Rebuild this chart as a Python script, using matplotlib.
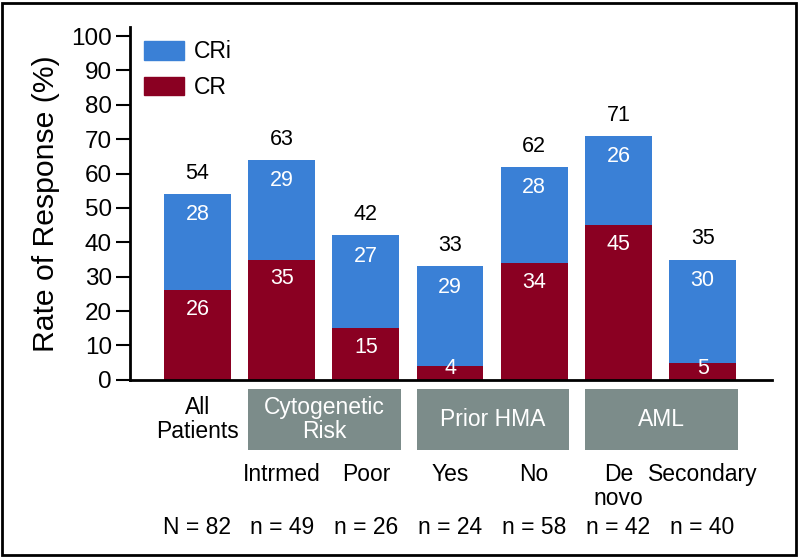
import matplotlib
matplotlib.use('Agg')
import matplotlib.pyplot as plt
from matplotlib.patches import Rectangle, Patch

plt.rcParams['font.family'] = ['Liberation Sans', 'DejaVu Sans']

# data
groups = ["All\nPatients", "Intrmed", "Poor", "Yes", "No", "De\nnovo", "Secondary"]
cr = [26, 35, 15, 4, 34, 45, 5]
cri = [28, 29, 27, 29, 28, 26, 30]
totals = [54, 63, 42, 33, 62, 71, 35]
n_labels = ["N = 82", "n = 49", "n = 26", "n = 24", "n = 58", "n = 42", "n = 40"]
# category boxes: (label, first bar index, last bar index)
boxes = [("Cytogenetic\nRisk", 1, 2), ("Prior HMA", 3, 4), ("AML", 5, 6)]

blue = '#3a80d6'
red = '#8a0022'
grey = '#7c8c8a'

fig = plt.figure(figsize=(7.98, 5.57), dpi=100)
ax = fig.add_axes([0.163, 0.318, 0.804, 0.634])

x = list(range(len(groups)))
w = 0.795
ax.bar(x, cr, width=w, color=red, label='CR')
ax.bar(x, cri, width=w, bottom=cr, color=blue, label='CRi')

for i in x:
    top = cr[i] + cri[i]
    ax.text(i, max(cr[i] - 5.6, 3.3), str(cr[i]), ha='center', va='center',
            color='white', fontsize=15.5)
    ax.text(i, top - 6, str(cri[i]), ha='center', va='center',
            color='white', fontsize=15.5)
    ax.text(i, top + 6, str(totals[i]), ha='center', va='center',
            color='black', fontsize=15.5)

ax.set_xlim(-0.80, 6.82)
ax.set_ylim(0, 102.7)
ax.set_yticks(range(0, 101, 10))
ax.tick_params(axis='y', labelsize=17.5, length=10, width=1.5, direction='out',
               pad=3)
ax.set_xticks([])
for s in ['top', 'right']:
    ax.spines[s].set_visible(False)
ax.spines['left'].set_linewidth(2)
ax.spines['bottom'].set_linewidth(2)
ax.set_ylabel('Rate of Response (%)', fontsize=21.7, labelpad=8)

# lower annotation rows
for lab, a, b in boxes:
    x0 = a - w / 2
    x1 = b + w / 2 + 0.02
    ax.add_patch(Rectangle((x0, -20.4), x1 - x0, 17.8, facecolor=grey,
                           edgecolor='none', clip_on=False))
    ax.text((x0 + x1) / 2, -11.6, lab, ha='center', va='center', color='white',
            fontsize=16.5, linespacing=1.05, clip_on=False)

ax.text(0, -11.6, groups[0], ha='center', va='center', fontsize=16.5,
        linespacing=1.05, clip_on=False)
for i in x[1:]:
    ax.text(i, -24.3, groups[i], ha='center', va='top', fontsize=16.5,
            linespacing=1.05, clip_on=False)
for i in x:
    ax.text(i, -42.8, n_labels[i], ha='center', va='center', fontsize=16.5,
            clip_on=False)

handles = [Patch(color=blue, label='CRi'), Patch(color=red, label='CR')]
ax.legend(handles=handles, loc='upper left', bbox_to_anchor=(0.0, 1.0),
          frameon=False, fontsize=16.5, handlelength=1.75, handleheight=0.85,
          labelspacing=0.55, handletextpad=0.45, borderaxespad=0.2)

# outer frame
fig.patches.append(Rectangle((1.5 / 798, 2.5 / 557), 794 / 798, 552 / 557,
                             transform=fig.transFigure, fill=False,
                             edgecolor='black', linewidth=2))

fig.savefig('out.png', dpi=100)
